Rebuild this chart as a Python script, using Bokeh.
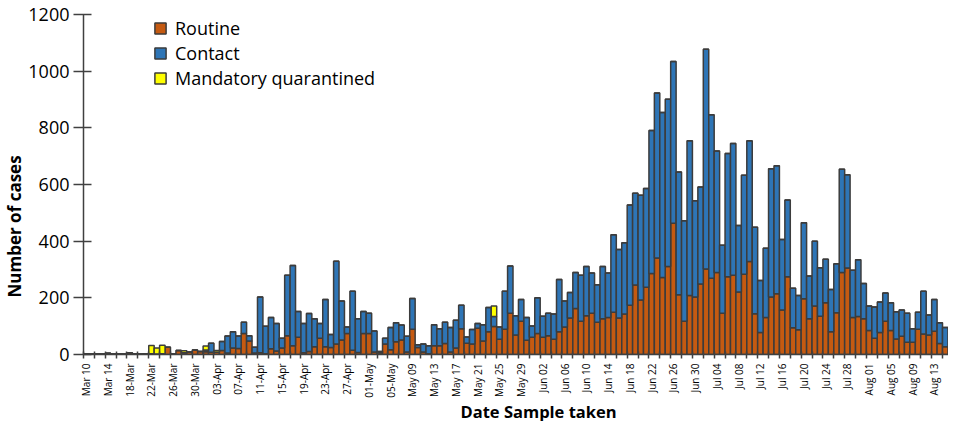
from math import pi
from bokeh.plotting import figure
from bokeh.models import ColumnDataSource, Range1d, FixedTicker, Title
from bokeh.embed import file_html
from bokeh.resources import INLINE

# Daily counts from Mar 10 (index 0) to Aug 15 (index 158)
routine = [3, 2, 3, 2, 4, 2, 3, 2, 6, 3, 2, 3,
           3, 2, 3, 26, 2, 14, 6, 9, 16, 11, 10, 8, 8, 14, 5, 23, 21, 74,
           48, 5, 6, 3, 20, 12, 23, 66, 31, 61, 6, 11, 27, 57, 27, 25, 37, 51,
           74, 15, 7, 74, 74, 9, 6, 37, 17, 45, 51, 9, 89, 25, 9, 3, 31, 31,
           39, 9, 23, 91, 40, 37, 93, 48, 80, 99, 54, 89, 146, 69, 117, 50, 61, 74,
           61, 66, 54, 80, 97, 129, 162, 117, 137, 146, 114, 126, 131, 149, 129, 143,
           174, 245, 192, 237, 286, 341, 272, 311, 463, 211, 117, 208, 203, 249, 302, 269,
           289, 146, 274, 280, 221, 283, 328, 144, 78, 131, 203, 214, 157, 274, 94, 87,
           197, 126, 171, 135, 183, 80, 147, 289, 305, 131, 134, 126, 85, 57, 78, 117,
           85, 55, 64, 43, 43, 89, 72, 69, 82, 39, 27]
contact = [0, 0, 0, 0, 0, 0, 0, 0, 0, 0, 0, 0,
           0, 0, 0, 0, 0, 0, 0, 0, 0, 0, 6, 32, 0, 32, 60, 57, 44, 40,
           18, 21, 197, 97, 111, 97, 34, 214, 283, 91, 103, 134, 99, 52, 167, 46, 292, 138,
           23, 208, 119, 78, 72, 74, 5, 20, 78, 67, 53, 55, 109, 9, 28, 28, 74, 60,
           75, 86, 98, 83, 22, 51, 16, 57, 86, 35, 43, 134, 166, 68, 77, 81, 40, 126,
           74, 80, 89, 185, 92, 90, 127, 163, 174, 142, 132, 185, 157, 274, 242, 251,
           354, 324, 370, 349, 505, 582, 582, 590, 571, 433, 355, 546, 340, 342, 775, 577,
           429, 240, 435, 465, 234, 350, 426, 305, 183, 244, 453, 452, 249, 271, 140, 121,
           268, 151, 229, 171, 153, 149, 173, 365, 329, 166, 200, 125, 86, 111, 107, 100,
           98, 96, 93, 103, 48, 60, 151, 70, 112, 73, 68]
mandatory = [0, 0, 0, 0, 0, 0, 0, 0, 0, 0, 0, 0,
             29, 21, 30, 0, 0, 0, 7, 0, 0, 0, 14, 0, 6, 0, 0, 0, 0, 0,
             0, 0, 0, 0, 0, 0, 0, 0, 0, 0, 0, 0, 0, 0, 0, 0, 0, 0,
             0, 0, 0, 0, 0, 0, 0, 0, 0, 0, 0, 0, 0, 0, 0, 0, 0, 0,
             0, 0, 0, 0, 0, 0, 0, 0, 0, 37, 0, 0, 0, 0, 0, 0, 0, 0,
             0, 0, 0, 0, 0, 0, 0, 0, 0, 0, 0, 0, 0, 0, 0, 0,
             0, 0, 0, 0, 0, 0, 0, 0, 0, 0, 0, 0, 0, 0, 0, 0,
             0, 0, 0, 0, 0, 0, 0, 0, 0, 0, 0, 0, 0, 0, 0, 0,
             0, 0, 0, 0, 0, 0, 0, 0, 0, 0, 0, 0, 0, 0, 0, 0,
             0, 0, 0, 0, 0, 0, 0, 0, 0, 0, 0]
tick_labels = ["Mar 10", "Mar 14", "18-Mar", "22-Mar", "26-Mar", "30-Mar", "03-Apr",
               "07-Apr", "11-Apr", "15-Apr", "19-Apr", "23-Apr", "27-Apr", "01-May",
               "05-May", "May 09", "May 13", "May 17", "May 21", "May 25", "May 29",
               "Jun 02", "Jun 06", "Jun 10", "Jun 14", "Jun 18", "Jun 22", "Jun 26",
               "Jun 30", "Jul 04", "Jul 08", "Jul 12", "Jul 16", "Jul 20", "Jul 24",
               "Jul 28", "Aug 01", "Aug 05", "Aug 09", "Aug 13"]
series = ["Routine", "Contact", "Mandatory quarantined"]
colors = ["#C55A11", "#2E75B6", "#FFFF00"]
y_ticks = [0, 200, 400, 600, 800, 1000, 1200]

days = list(range(len(routine)))
src = ColumnDataSource(dict(day=days, routine=routine, contact=contact, mandatory=mandatory))

FONT = "Open Sans"
AX = "#404040"

p = figure(width=948, height=421, output_backend="svg", toolbar_location=None,
           x_range=Range1d(-0.5, 158.6), y_range=Range1d(0, 1200),
           min_border_left=78, min_border_right=0, min_border_top=14, min_border_bottom=40)
p.vbar_stack(["routine", "contact", "mandatory"], x="day", width=1.0, source=src,
             fill_color=colors, line_color="#3c3c3c", line_width=1.5,
             legend_label=series)

p.outline_line_color = None
p.xgrid.visible = False
p.ygrid.visible = False

# y axis
ya = p.yaxis[0]
ya.ticker = FixedTicker(ticks=y_ticks)
ya.major_tick_in = 8
ya.major_tick_out = 10
ya.minor_tick_line_color = None
ya.axis_line_color = AX
ya.axis_line_width = 1.5
ya.major_tick_line_color = AX
ya.major_tick_line_width = 1.5
ya.major_label_text_font = FONT
ya.major_label_text_font_size = "18px"
ya.major_label_text_color = "#000000"
ya.major_label_standoff = 4

# x axis
label_pos = [4 * i for i in range(len(tick_labels))]
minor_pos = [2 * k - 0.5 for k in range(80)]
xa = p.xaxis[0]
xa.ticker = FixedTicker(ticks=label_pos, minor_ticks=minor_pos)
xa.major_label_overrides = {pos: lab for pos, lab in zip(label_pos, tick_labels)}
xa.major_tick_line_color = None
xa.major_tick_in = 0
xa.major_tick_out = 0
xa.minor_tick_line_color = AX
xa.minor_tick_line_width = 1.5
xa.minor_tick_in = 3
xa.minor_tick_out = 4
xa.axis_line_color = AX
xa.axis_line_width = 1.5
xa.major_label_orientation = pi / 2
xa.major_label_standoff = 5
xa.major_label_text_font = FONT
xa.major_label_text_font_size = "10px"
xa.major_label_text_color = "#000000"

# axis titles
p.add_layout(Title(text="Date Sample taken", align="left", offset=377, standoff=-4,
                   vertical_align="middle",
                   text_font=FONT, text_font_size="16.5px", text_font_style="bold",
                   text_color="#000000"), "below")
p.add_layout(Title(text="Number of cases", align="left", offset=57, standoff=0,
                   text_font=FONT, text_font_size="17px", text_font_style="bold",
                   text_color="#000000"), "left")

# legend
lg = p.legend[0]
lg.location = (70, 264)
lg.border_line_color = None
lg.background_fill_alpha = 0
lg.padding = 0
lg.margin = 0
lg.spacing = 0
lg.label_height = 25
lg.glyph_height = 14
lg.glyph_width = 14
lg.label_standoff = 8
lg.label_text_font = FONT
lg.label_text_font_size = "18px"
lg.label_text_color = "#000000"

open("out.html", "w").write(file_html(p, INLINE))
